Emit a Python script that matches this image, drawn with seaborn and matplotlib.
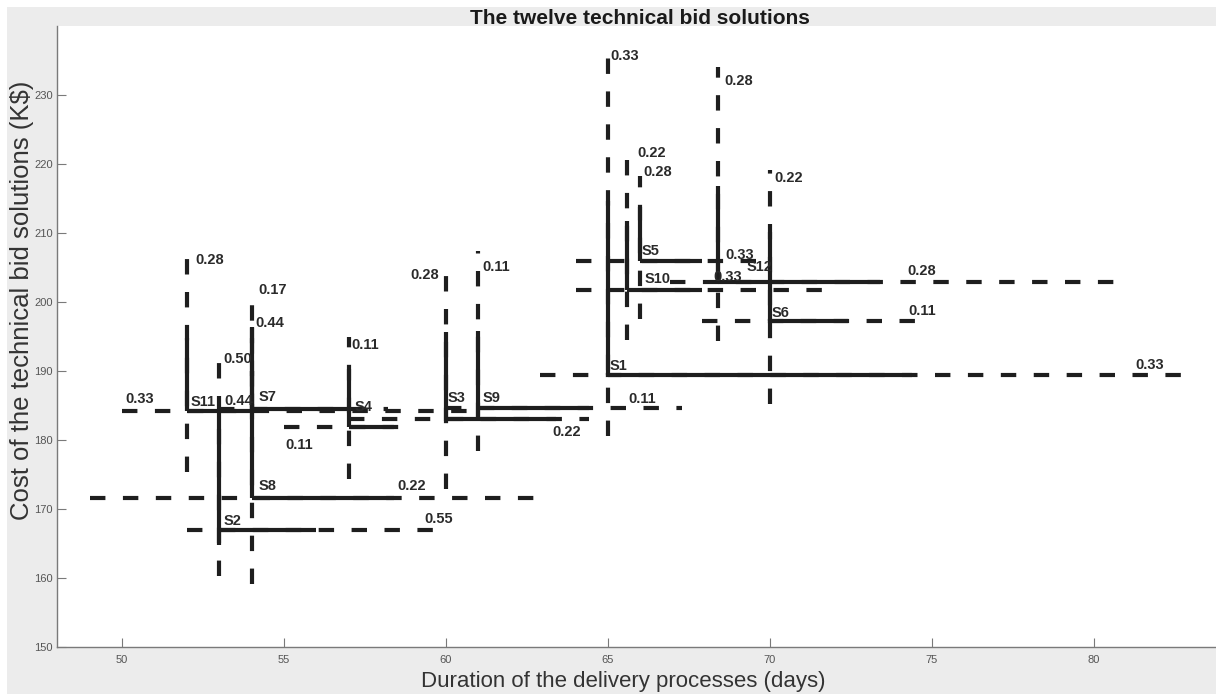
import numpy as np
import pandas as pd
import matplotlib
matplotlib.use('Agg')
import matplotlib.pyplot as plt
import seaborn as sns
from matplotlib.patches import Rectangle

# 十二個方案: 角點 (工期, 成本)
names = ['S1', 'S2', 'S3', 'S4', 'S5', 'S6', 'S7', 'S8', 'S9', 'S10', 'S11', 'S12']
dur = [65, 53, 60, 57, 66, 70, 54, 54, 61, 65.6, 52, 68.4]
cost = [189.4, 167.0, 183.0, 181.9, 205.9, 197.2, 184.5, 171.6, 184.6, 201.8, 184.2, 202.9]

# 水平線 (工期範圍): 虛線全段, 實線到 h_solid_hi
h_dash_lo = [62.9, 52.0, 57.0, 55.0, 64.0, 67.9, 53.0, 49.0, 60.0, 64.0, 50.0, 66.9]
h_dash_hi = [82.8, 59.9, 64.4, 59.0, 70.0, 74.9, 58.2, 63.0, 67.3, 71.85, 60.8, 80.9]
h_solid_hi = [74.4, 56.0, 63.4, 58.4, 67.9, 72.4, 57.0, 58.4, 64.4, 67.9, 54.0, 73.4]

# 垂直線 (成本範圍)
v_dash_lo = [180.6, 160.3, 172.9, 174.3, 197.5, 185.2, 184.5, 159.1, 178.4, 194.5, 175.4, 194.3]
v_dash_hi = [237.3, 192.8, 204.8, 195.0, 218.2, 219.1, 196.4, 201.9, 207.4, 221.9, 206.9, 234.1]
v_solid_lo = [189.4, 164.8, 182.8, 181.9, 205.9, 197.2, 184.5, 171.6, 183.0, 201.8, 184.2, 202.9]
v_solid_hi = [214.6, 184.0, 195.6, 190.3, 213.7, 210.1, 190.0, 196.4, 195.8, 211.7, 194.8, 216.8]

# 方案標籤位置
name_x = [65.06, 53.12, 60.06, 57.19, 66.05, 70.06, 54.20, 54.20, 61.14, 66.14, 52.10, 69.29]
name_y = [190.7, 168.3, 186.1, 184.8, 207.4, 198.4, 186.2, 173.3, 186.1, 203.3, 185.5, 205.1]

# 機率數字
prob_text = ['0.28', '0.17', '0.44', '0.50', '0.33', '0.44', '0.11', '0.11', '0.22', '0.55',
             '0.28', '0.11', '0.22', '0.11', '0.33', '0.22', '0.28', '0.28', '0.22', '0.33',
             '0.33', '0.28', '0.11', '0.33']
prob_x = [52.25, 54.20, 54.10, 53.12, 50.09, 53.15, 57.09, 55.03, 58.49, 59.32,
          58.89, 61.11, 63.27, 65.62, 65.06, 65.90, 66.08, 68.58, 70.15, 68.61,
          68.24, 74.23, 74.26, 81.27]
prob_y = [206.1, 201.8, 197.0, 191.7, 185.9, 185.65, 193.8, 179.3, 173.3, 168.55,
          203.9, 205.1, 181.2, 185.9, 235.6, 221.6, 218.9, 232.0, 218.0, 206.8,
          203.6, 204.5, 198.7, 190.9]

xticks = [50, 55, 60, 65, 70, 75, 80]
yticks = [150, 160, 170, 180, 190, 200, 210, 220, 230]

# 組線段表
rows = []
for i, n in enumerate(names):
    rows += [(n + '-hd', 'dash', h_dash_lo[i], cost[i]), (n + '-hd', 'dash', h_dash_hi[i], cost[i])]
    rows += [(n + '-vd', 'dash', dur[i], v_dash_lo[i]), (n + '-vd', 'dash', dur[i], v_dash_hi[i])]
    rows += [(n + '-hs', 'solid', dur[i], cost[i]), (n + '-hs', 'solid', h_solid_hi[i], cost[i])]
    rows += [(n + '-vs', 'solid', dur[i], v_solid_lo[i]), (n + '-vs', 'solid', dur[i], v_solid_hi[i])]
seg = pd.DataFrame(rows, columns=['seg', 'kind', 'x', 'y'])

sns.set_theme(style='ticks')
plt.rcParams['font.family'] = ['Liberation Sans', 'DejaVu Sans']

LINE = '#1e1e1e'
BG = '#ececec'

fig = plt.figure(figsize=(12.16, 6.94), dpi=100)
fig.patch.set_facecolor('white')
fig.patches.append(Rectangle((7 / 1216, 0), 1, 1 - 7 / 694, transform=fig.transFigure,
                             facecolor=BG, edgecolor='none', zorder=-10))
ax = fig.add_axes([57 / 1216, 47 / 694, 1 - 57 / 1216, (647 - 26) / 694])
ax.set_facecolor('white')

sns.lineplot(data=seg[seg.kind == 'dash'], x='x', y='y', units='seg', estimator=None, sort=False,
             color=LINE, linewidth=3.0, linestyle=(0, (3.7, 4.2)), dash_capstyle='butt',
             legend=False, ax=ax, zorder=2)
sns.lineplot(data=seg[seg.kind == 'solid'], x='x', y='y', units='seg', estimator=None, sort=False,
             color=LINE, linewidth=3.0, solid_capstyle='butt', legend=False, ax=ax, zorder=3)

for t, x, y in zip(names, name_x, name_y):
    ax.text(x, y, t, ha='left', va='center', fontsize=10.5, fontweight='bold', color='#2a2a2a', zorder=4)
for t, x, y in zip(prob_text, prob_x, prob_y):
    ax.text(x, y, t, ha='left', va='center', fontsize=10.5, fontweight='bold', color='#2a2a2a', zorder=4)

ax.set_xlim(47.99, 83.77)
ax.set_ylim(150, 240)
ax.set_xticks(xticks)
ax.set_yticks(yticks)
ax.tick_params(direction='in', length=6.5, width=0.8, color='#7a7a7a', labelsize=8,
               labelcolor='#555555')
ax.tick_params(axis='x', pad=6)
ax.tick_params(axis='y', pad=3)
for s in ['top', 'right']:
    ax.spines[s].set_visible(False)
for s in ['left', 'bottom']:
    ax.spines[s].set_color('#7a7a7a')
    ax.spines[s].set_linewidth(1.0)

ax.set_xlabel('')
ax.set_ylabel('')
fig.text(623 / 1216, 1 - 681 / 694, 'Duration of the delivery processes (days)', ha='center', va='center',
         fontsize=16, color='#333333')
fig.text(22 / 1216, 1 - 300 / 694, 'Cost of the technical bid solutions (K$)', ha='center', va='center',
         rotation=90, fontsize=18.5, color='#333333')
fig.text(640 / 1216, 1 - 18 / 694, 'The twelve technical bid solutions', ha='center', va='center',
         fontsize=15, fontweight='bold', color='#1a1a1a')

fig.savefig('out.png', dpi=100, facecolor=fig.get_facecolor())
